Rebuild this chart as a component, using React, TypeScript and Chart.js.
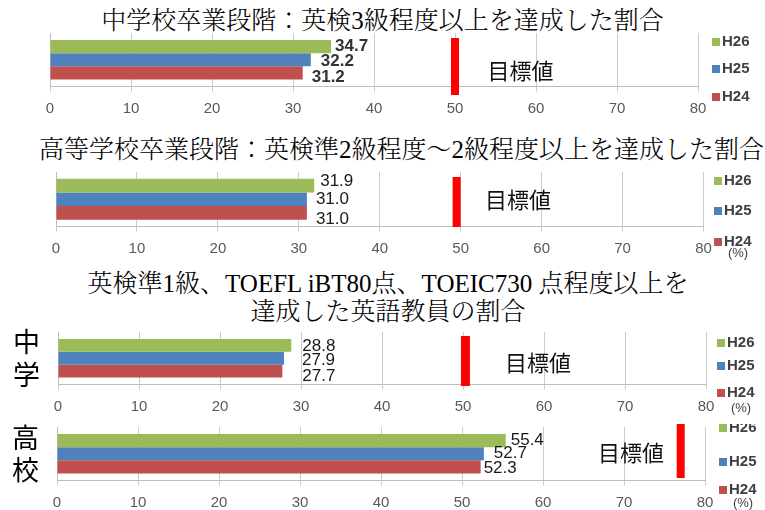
import React, { useEffect, useRef } from 'react';
import { Chart, registerables } from 'chart.js';

Chart.register(...registerables);

// ---- data ----
const seriesLabels = ['H26', 'H25', 'H24'];
const seriesColors = ['#9BBB59', '#4F81BD', '#C0504D'];
const h26Values = [34.7, 31.9, 28.8, 55.4];
const h25Values = [32.2, 31.0, 27.9, 52.7];
const h24Values = [31.2, 31.0, 27.7, 52.3];
const targetValues = [50, 49.5, 50.3, 77];
const targetLabel = '目標値';
const rowLabels = [[''], [''], ['中', '学'], ['高', '校']];
const xTickValues = [0, 10, 20, 30, 40, 50, 60, 70, 80];
const unitLabel = '(%)';
const titles = [
  ['中学校卒業段階：英検3級程度以上を達成した割合'],
  ['高等学校卒業段階：英検準2級程度～2級程度以上を達成した割合'],
  ['英検準1級、TOEFL iBT80点、TOEIC730 点程度以上を', '達成した英語教員の割合'],
];

// ---- styles / layout ----
const NUM_FONT = '"Liberation Sans", Arial, sans-serif';
const CJK_FONT = '"Noto Sans CJK JP", sans-serif';
const TITLE_FONT = '"Liberation Serif", "Noto Serif CJK JP", "Noto Sans CJK JP", serif';

const titleLayout = [
  { cx: 382.5, cy: 21 },
  { cx: 401.5, cy: 150 },
  { cx: 388, cy: 298 },
];

type PanelCfg = {
  top: number; height: number;
  plotTop: number; plotBottom: number; plotLeft: number; plotRight: number;
  catPct: number;
  tTop: number; tBottom: number; tWidth: number;
  goalValue: number; goalDy: number;
  labelDx: number[]; labelDy: number[]; labelBold: boolean;
  legendX: number; legendY: number[]; pctY: number | null;
};

const panels: PanelCfg[] = [
  { top: 30, height: 90, plotTop: 33, plotBottom: 86.5, plotLeft: 50, plotRight: 698, catPct: 0.74,
    tTop: 38, tBottom: 95, tWidth: 8, goalValue: 54, goalDy: 10.5,
    labelDx: [4, 10, 9], labelDy: [0, 2, 4.5], labelBold: true,
    legendX: 712, legendY: [42, 69, 97], pctY: null },
  { top: 168, height: 94, plotTop: 172, plotBottom: 226.5, plotLeft: 56, plotRight: 703.5, catPct: 0.75,
    tTop: 177, tBottom: 227, tWidth: 8, goalValue: 53, goalDy: 0,
    labelDx: [6, 9, 9], labelDy: [-4.5, 0, 6], labelBold: false,
    legendX: 714, legendY: [181, 211, 242], pctY: 253 },
  { top: 326, height: 92, plotTop: 332, plotBottom: 384.5, plotLeft: 58, plotRight: 706, catPct: 0.73,
    tTop: 336, tBottom: 386, tWidth: 9, goalValue: 55.2, goalDy: 4,
    labelDx: [11, 18, 20], labelDy: [1, 2.5, 5.5], labelBold: false,
    legendX: 717, legendY: [343, 366, 393], pctY: 408 },
  { top: 424, height: 86, plotTop: 427, plotBottom: 480.5, plotLeft: 57, plotRight: 705, catPct: 0.74,
    tTop: 422, tBottom: 478, tWidth: 8, goalValue: 66.8, goalDy: -1,
    labelDx: [5, 10, 3], labelDy: [0, 0, 1.5], labelBold: false,
    legendX: 719, legendY: [428, 462, 490], pctY: 503 },
];

const seriesValues = [h26Values, h25Values, h24Values];

function makePlugin(idx: number) {
  const cfg = panels[idx];
  return {
    id: 'panelDecor' + idx,
    afterDraw(chart: any) {
      const ctx = chart.ctx as CanvasRenderingContext2D;
      const area = chart.chartArea;
      const xs = chart.scales.x;
      ctx.save();
      // target bar
      const tx = xs.getPixelForValue(targetValues[idx]);
      ctx.fillStyle = '#FF0000';
      ctx.fillRect(tx - cfg.tWidth / 2, cfg.tTop - cfg.top, cfg.tWidth, cfg.tBottom - cfg.tTop);
      // goal text
      ctx.fillStyle = '#111111';
      ctx.font = `22px ${CJK_FONT}`;
      ctx.textAlign = 'left';
      ctx.textBaseline = 'middle';
      ctx.fillText(targetLabel, xs.getPixelForValue(cfg.goalValue), (area.top + area.bottom) / 2 + cfg.goalDy);
      // data labels
      ctx.font = `${cfg.labelBold ? 'bold ' : ''}17px ${NUM_FONT}`;
      ctx.fillStyle = cfg.labelBold ? '#333333' : '#1a1a1a';
      chart.data.datasets.forEach((ds: any, i: number) => {
        const el = chart.getDatasetMeta(i).data[0];
        if (!el) return;
        ctx.fillText(Number(ds.data[0]).toFixed(1), el.x + cfg.labelDx[i], el.y + cfg.labelDy[i]);
      });
      // legend
      chart.data.datasets.forEach((ds: any, i: number) => {
        const y = cfg.legendY[i] - cfg.top;
        ctx.fillStyle = ds.backgroundColor;
        ctx.fillRect(cfg.legendX, y - 4, 8, 8);
        ctx.fillStyle = '#404040';
        ctx.font = `bold 15px ${NUM_FONT}`;
        ctx.fillText(ds.label, cfg.legendX + 10, y);
      });
      if (cfg.pctY !== null) {
        ctx.font = `13px ${NUM_FONT}`;
        ctx.fillStyle = '#404040';
        ctx.textAlign = 'center';
        ctx.fillText(unitLabel, cfg.legendX + 24, cfg.pctY - cfg.top);
      }
      ctx.restore();
    },
  };
}

function Panel({ idx }: { idx: number }) {
  const ref = useRef<HTMLCanvasElement>(null);
  const cfg = panels[idx];
  useEffect(() => {
    const canvas = ref.current;
    if (!canvas) return;
    const chart = new Chart(canvas, {
      type: 'bar',
      data: {
        labels: [rowLabels[idx]],
        datasets: seriesLabels.map((name, i) => ({
          label: name,
          data: [seriesValues[i][idx]],
          backgroundColor: seriesColors[i],
          borderWidth: 0,
          categoryPercentage: cfg.catPct,
          barPercentage: 1,
        })),
      } as any,
      options: {
        indexAxis: 'y',
        responsive: false,
        maintainAspectRatio: false,
        animation: false,
        devicePixelRatio: 1,
        layout: { padding: { top: cfg.plotTop - cfg.top, right: 765 - cfg.plotRight, left: 0, bottom: 0 } },
        plugins: { legend: { display: false }, title: { display: false }, tooltip: { enabled: false } },
        scales: {
          x: {
            type: 'linear', min: 0, max: 80, position: 'bottom',
            afterBuildTicks: (s: any) => { s.ticks = xTickValues.map((v) => ({ value: v })); },
            afterFit: (s: any) => {
              s.height = cfg.height - (cfg.plotBottom - cfg.top);
              s.paddingLeft = 0; s.paddingRight = 0; s.paddingTop = 0; s.paddingBottom = 0;
            },
            grid: { color: '#cccccc', tickLength: 5, drawTicks: true, lineWidth: 1 },
            border: { display: true, color: '#bdbdbd' },
            ticks: { font: { family: NUM_FONT, size: 15 }, color: '#595959', padding: 8, maxRotation: 0, autoSkip: false },
          },
          y: {
            afterFit: (s: any) => {
              s.width = cfg.plotLeft;
              s.paddingLeft = 0; s.paddingRight = 0; s.paddingTop = 0; s.paddingBottom = 0;
            },
            grid: { display: false, drawTicks: false },
            border: { display: true, color: '#bdbdbd' },
            ticks: { font: { family: CJK_FONT, size: 27, lineHeight: 1.22 }, color: '#000000', padding: 18 },
          },
        },
      } as any,
      plugins: [makePlugin(idx)],
    });
    return () => chart.destroy();
  }, [idx]);
  return (
    <canvas
      ref={ref}
      width={765}
      height={cfg.height}
      style={{ position: 'absolute', left: 0, top: cfg.top, width: 765, height: cfg.height }}
    />
  );
}

export default function App() {
  return (
    <div style={{ position: 'fixed', left: 0, top: 0, width: 765, height: 510, background: '#ffffff', overflow: 'hidden' }}>
      {titles.map((lines, t) => {
        const lh = 28;
        const { cx, cy } = titleLayout[t];
        return (
          <div
            key={t}
            style={{
              position: 'absolute', left: cx - 420, width: 840, top: cy - (lines.length * lh) / 2,
              textAlign: 'center', fontFamily: TITLE_FONT, fontSize: 25, fontWeight: 300, lineHeight: lh + 'px',
              color: '#000', whiteSpace: 'nowrap',
            }}
          >
            {lines.map((l, k) => <div key={k}>{l}</div>)}
          </div>
        );
      })}
      {panels.map((_, i) => <Panel key={i} idx={i} />)}
    </div>
  );
}
